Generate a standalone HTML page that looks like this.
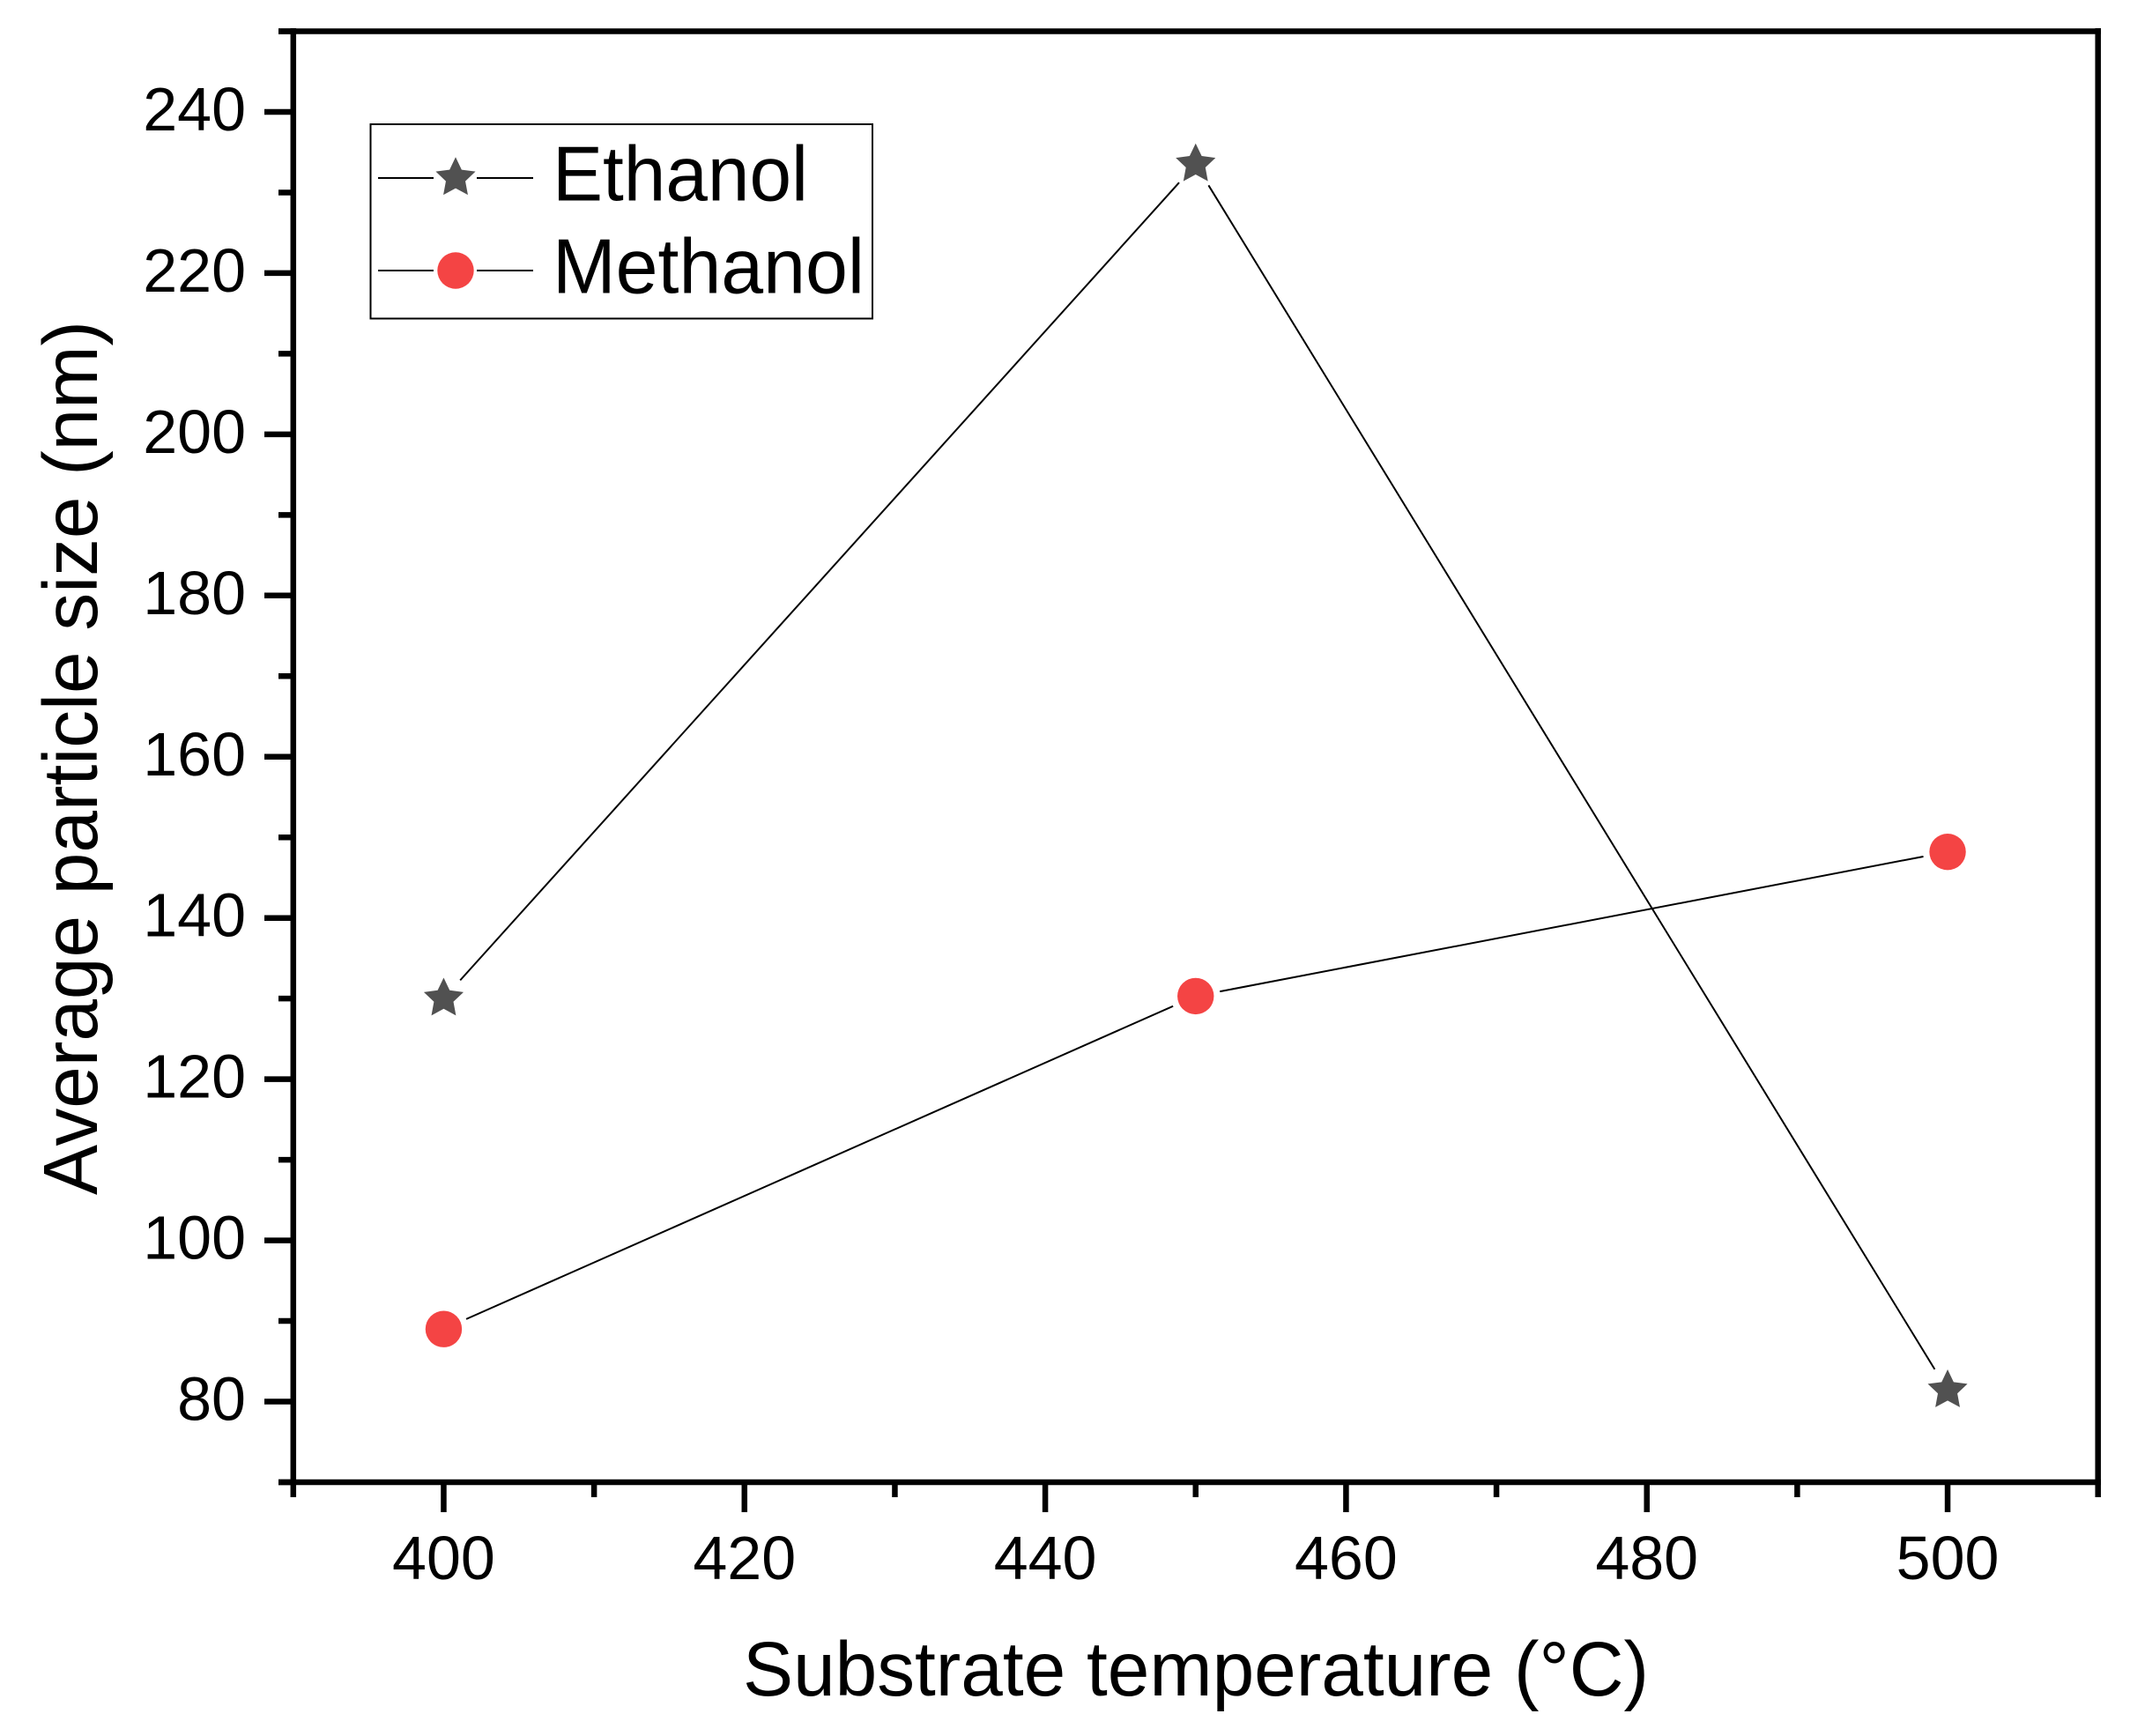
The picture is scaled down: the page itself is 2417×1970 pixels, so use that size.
<!DOCTYPE html>
<html lang="en">
<head>
<meta charset="utf-8">
<title>Average particle size vs substrate temperature</title>
<style>
  html, body { margin: 0; padding: 0; background: #fff; }
  svg { display: block; }
  text { font-family: "Liberation Sans", Arial, sans-serif; fill: #000; }
</style>
</head>
<body>
<svg id="chart" xmlns="http://www.w3.org/2000/svg" width="2417" height="1970" viewBox="0 0 2417 1970">
  <rect x="0" y="0" width="2417" height="1970" fill="#fff"/>
  <g id="ticks"></g>
  <g id="frame" stroke="#000" stroke-width="6.5" fill="none">
    <line x1="316" y1="35.5" x2="2384" y2="35.5"/>
    <line x1="316" y1="1682" x2="2384" y2="1682"/>
    <line x1="332.8" y1="32" x2="332.8" y2="1685"/>
    <line x1="2380.7" y1="32" x2="2380.7" y2="1685"/>
  </g>
  <g id="series"></g>
  <g id="tick-labels"></g>
  <text x="1357" y="1924" font-size="87" text-anchor="middle" textLength="1028" lengthAdjust="spacingAndGlyphs">Substrate temperature (°C)</text>
  <text x="0" y="0" font-size="87" text-anchor="middle" textLength="992" lengthAdjust="spacingAndGlyphs" transform="translate(110 860) rotate(-90)">Average particle size (nm)</text>
  <g id="legend">
    <rect x="420.5" y="141" width="569.5" height="220.5" fill="#fff" stroke="#000" stroke-width="2"/>
    <g>
      <line x1="429" y1="202" x2="492" y2="202" stroke="#000" stroke-width="2"/>
      <line x1="541" y1="202" x2="605" y2="202" stroke="#000" stroke-width="2"/>
      <polygon id="legend-star" fill="#515151"/>
      <text x="627" y="227.5" font-size="88" textLength="290" lengthAdjust="spacingAndGlyphs">Ethanol</text>
    </g>
    <g>
      <line x1="429" y1="307" x2="492" y2="307" stroke="#000" stroke-width="2"/>
      <line x1="541" y1="307" x2="605" y2="307" stroke="#000" stroke-width="2"/>
      <circle cx="517" cy="307" r="20.7" fill="#f44444"/>
      <text x="627" y="332.5" font-size="88" textLength="354" lengthAdjust="spacingAndGlyphs">Methanol</text>
    </g>
  </g>
</svg>
<script>
// Chart data
const temperatures = [400, 450, 500];
const ethanolSizes = [130, 233.5, 81.4];
const methanolSizes = [89, 130.3, 148.2];
const xTickLabels = [400, 420, 440, 460, 480, 500];
const yTickLabels = [80, 100, 120, 140, 160, 180, 200, 220, 240];
const xMinorTicks = [390, 410, 430, 450, 470, 490, 510];
const yMinorTicks = [70, 90, 110, 130, 150, 170, 190, 210, 230, 250];

const NS = 'http://www.w3.org/2000/svg';
const xDomain = [390, 510], xRange = [332.8, 2380.7];
const yDomain = [70, 250], yRange = [1682, 35.5];
const gap = 28;

function xScale(v) {
  return xRange[0] + (v - xDomain[0]) / (xDomain[1] - xDomain[0]) * (xRange[1] - xRange[0]);
}
function yScale(v) {
  return yRange[0] + (v - yDomain[0]) / (yDomain[1] - yDomain[0]) * (yRange[1] - yRange[0]);
}
function make(tag, attrs, parent) {
  const el = document.createElementNS(NS, tag);
  Object.keys(attrs).forEach(function (k) { el.setAttribute(k, attrs[k]); });
  parent.appendChild(el);
  return el;
}
function starPoints(cx, cy, R) {
  const pts = [];
  for (let i = 0; i < 10; i++) {
    const r = i % 2 === 0 ? R : R * 0.49;
    const a = -Math.PI / 2 + i * Math.PI / 5;
    pts.push((cx + r * Math.cos(a)).toFixed(2) + ',' + (cy + r * Math.sin(a)).toFixed(2));
  }
  return pts.join(' ');
}

const ticks = document.getElementById('ticks');
const labels = document.getElementById('tick-labels');
const seriesGroup = document.getElementById('series');

xTickLabels.forEach(function (v) {
  const x = xScale(v);
  const t = make('line', { x1: x, y1: 1682, x2: x, y2: 1716, stroke: '#000', 'stroke-width': 6.5 }, ticks);
  
  
  const l = make('text', { x: x, y: 1792, 'font-size': 70, 'text-anchor': 'middle' }, labels);
  l.textContent = String(v);
  
  
});
xMinorTicks.forEach(function (v) {
  const x = xScale(v);
  const t = make('line', { x1: x, y1: 1682, x2: x, y2: 1699, stroke: '#000', 'stroke-width': 6.5 }, ticks);
  
  
});
yTickLabels.forEach(function (v) {
  const y = yScale(v);
  const t = make('line', { x1: 300, y1: y, x2: 332.8, y2: y, stroke: '#000', 'stroke-width': 6.5 }, ticks);
  
  
  const l = make('text', { x: 279, y: y + 21, 'font-size': 70, 'text-anchor': 'end' }, labels);
  l.textContent = String(v);
  
  
});
yMinorTicks.forEach(function (v) {
  const y = yScale(v);
  const t = make('line', { x1: 316, y1: y, x2: 332.8, y2: y, stroke: '#000', 'stroke-width': 6.5 }, ticks);
  
  
});

function drawSegments(values, group) {
  for (let i = 0; i < values.length - 1; i++) {
    const x1 = xScale(temperatures[i]), y1 = yScale(values[i]);
    const x2 = xScale(temperatures[i + 1]), y2 = yScale(values[i + 1]);
    const d = Math.hypot(x2 - x1, y2 - y1);
    const ux = (x2 - x1) / d, uy = (y2 - y1) / d;
    const seg = make('line', {
      x1: x1 + ux * gap, y1: y1 + uy * gap,
      x2: x2 - ux * gap, y2: y2 - uy * gap,
      stroke: '#000', 'stroke-width': 2
    }, group);
    
    
  }
}

const ethanolGroup = make('g', {}, seriesGroup);


drawSegments(ethanolSizes, ethanolGroup);
ethanolSizes.forEach(function (v, i) {
  const p = make('polygon', { points: starPoints(xScale(temperatures[i]), yScale(v), 23.7), fill: '#515151' }, ethanolGroup);
  
  
});

const methanolGroup = make('g', {}, seriesGroup);


drawSegments(methanolSizes, methanolGroup);
methanolSizes.forEach(function (v, i) {
  const c = make('circle', { cx: xScale(temperatures[i]), cy: yScale(v), r: 20.7, fill: '#f44444' }, methanolGroup);
  
  
});

document.getElementById('legend-star').setAttribute('points', starPoints(517, 202, 23.7));
</script>
</body>
</html>
